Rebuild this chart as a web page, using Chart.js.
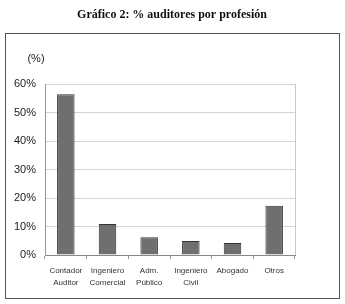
<!DOCTYPE html>
<html lang="es">
<head>
  <meta charset="UTF-8">
  <title>Gráfico 2: % auditores por profesión</title>
  <script src="https://cdn.jsdelivr.net/npm/chart.js"></script>
  <style>
    body { margin: 0; background: white; }
    canvas { display: block; }
  </style>
</head>
<body>
<canvas id="chart" width="345" height="304"></canvas>
<script>
  // datos
  const profesiones = [
    ["Contador", "Auditor"],
    ["Ingeniero", "Comercial"],
    ["Adm.", "Público"],
    ["Ingeniero", "Civil"],
    ["Abogado"],
    ["Otros"]
  ];
  const porcentajes = [56.4, 10.9, 6.2, 4.9, 4.2, 17.3];
  const yTicks = [0, 10, 20, 30, 40, 50, 60];

  // marco exterior, título y "(%)"
  const decoracion = {
    id: "decoracion",
    beforeDraw(chart) {
      const c = chart.ctx;
      c.save();
      c.fillStyle = "white";
      c.fillRect(0, 0, chart.width, chart.height);
      c.strokeStyle = "#555";
      c.lineWidth = 1;
      c.strokeRect(5.5, 33.5, 334, 265);
      c.fillStyle = "#111";
      c.font = "bold 12px 'Liberation Serif'";
      c.textAlign = "center";
      c.textBaseline = "middle";
      c.fillText("Gráfico 2: % auditores por profesión", 172, 15);
      c.font = "11px 'Liberation Sans'";
      c.fillStyle = "#222";
      c.fillText("(%)", 36, 59);
      c.restore();
    },
    afterDatasetsDraw(chart) {
      const a = chart.chartArea;
      const c = chart.ctx;
      c.save();
      c.strokeStyle = "#c8c8c8";
      c.lineWidth = 1;
      c.beginPath();
      c.moveTo(a.right + 0.5, a.top);
      c.lineTo(a.right + 0.5, a.bottom);
      c.stroke();
      c.restore();
    }
  };

  new Chart(document.getElementById("chart"), {
    type: "bar",
    data: {
      labels: profesiones,
      datasets: [{
        data: porcentajes,
        backgroundColor: "#6f6f6f",
        borderColor: "#333",
        borderWidth: 1,
        barPercentage: 0.42,
        categoryPercentage: 1
      }]
    },
    options: {
      responsive: false,
      animation: false,
      layout: { padding: { top: 84, right: 50, left: 0, bottom: 0 } },
      plugins: { legend: { display: false }, tooltip: { enabled: false } },
      scales: {
        x: {
          afterFit(scale) { scale.height = 49; },
          grid: { offset: true, drawOnChartArea: false, tickLength: 4, color: "#999" },
          border: { color: "#888" },
          ticks: {
            color: "#333",
            font: { family: "'Liberation Sans'", size: 8, lineHeight: 1.5 },
            padding: 6,
            maxRotation: 0,
            autoSkip: false
          }
        },
        y: {
          min: 0,
          max: 60,
          afterFit(scale) { scale.width = 45; },
          afterBuildTicks(scale) { scale.ticks = yTicks.map(v => ({ value: v })); },
          grid: { color: "#d4d4d4", drawTicks: false },
          border: { color: "#999" },
          ticks: {
            color: "#222",
            font: { family: "'Liberation Sans'", size: 11 },
            padding: 9,
            callback: v => v + "%"
          }
        }
      }
    },
    plugins: [decoracion]
  });
</script>
</body>
</html>
